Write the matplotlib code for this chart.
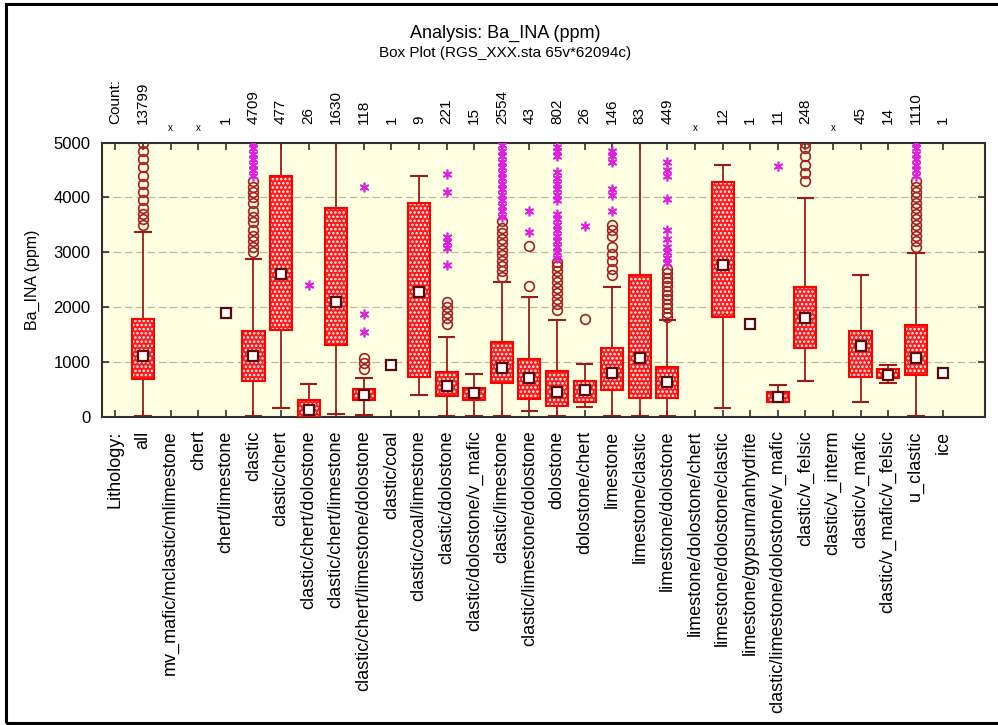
import numpy as np
import matplotlib
matplotlib.use("Agg")
import matplotlib.pyplot as plt
from matplotlib.patches import Rectangle

plt.rcParams['font.family'] = ['Liberation Sans', 'DejaVu Sans']
plt.rcParams['hatch.linewidth'] = 1.2

nan = np.nan
categories = ['all', 'mv_mafic/mclastic/mlimestone', 'chert', 'chert/limestone', 'clastic',
              'clastic/chert', 'clastic/chert/dolostone', 'clastic/chert/limestone',
              'clastic/chert/limestone/dolostone', 'clastic/coal', 'clastic/coal/limestone',
              'clastic/dolostone', 'clastic/dolostone/v_mafic', 'clastic/limestone',
              'clastic/limestone/dolostone', 'dolostone', 'dolostone/chert', 'limestone',
              'limestone/clastic', 'limestone/dolostone', 'limestone/dolostone/chert',
              'limestone/dolostone/clastic', 'limestone/gypsum/anhydrite',
              'clastic/limestone/dolostone/v_mafic', 'clastic/v_felsic', 'clastic/v_interm',
              'clastic/v_mafic', 'clastic/v_mafic/v_felsic', 'u_clastic', 'ice']
counts = ['13799', 'x', 'x', '1', '4709', '477', '26', '1630', '118', '1', '9', '221', '15',
          '2554', '43', '802', '26', '146', '83', '449', 'x', '12', '1', '11', '248', 'x',
          '45', '14', '1110', '1']

median = [1100, nan, nan, 1900, 1100, 2600, 130, 2100, 400, 950, 2280, 565, 440, 890, 700,
          450, 480, 800, 1070, 630, nan, 2770, 1690, 360, 1800, nan, 1290, 770, 1070, 800]
q1 = [680, nan, nan, nan, 660, 1580, 0, 1300, 300, nan, 730, 370, 300, 610, 320,
      190, 260, 480, 340, 340, nan, 1820, nan, 270, 1250, nan, 730, 700, 760, nan]
q3 = [1780, nan, nan, nan, 1570, 4400, 310, 3800, 500, nan, 3900, 810, 530, 1360, 1050,
      840, 660, 1250, 2590, 900, nan, 4280, nan, 450, 2370, nan, 1560, 870, 1680, nan]
w_lo = [15, nan, nan, nan, 15, 150, 0, 55, 30, nan, 400, 15, 15, 15, 110,
        15, 180, 15, 15, 15, nan, 150, nan, 270, 650, nan, 270, 610, 15, nan]
w_hi = [3370, nan, nan, nan, 2880, 5500, 600, 5500, 710, nan, 4400, 1450, 780, 2460, 2180,
        1770, 960, 2370, 5500, 1770, nan, 4600, nan, 580, 3990, nan, 2580, 945, 2990, nan]

outliers = {
    0: [3500, 3600, 3700, 3800, 3950, 4100, 4250, 4400, 4550, 4700, 4850, 5000],
    4: [3000, 3100, 3200, 3300, 3400, 3550, 3650, 3750, 3900, 4000, 4100, 4200, 4300],
    8: [870, 980, 1070],
    11: [1700, 1800, 1900, 2000, 2100],
    13: [2550, 2650, 2750, 2850, 2950, 3050, 3150, 3250, 3350, 3450, 3580],
    14: [2390, 3110],
    15: [1950, 2050, 2150, 2250, 2350, 2450, 2550, 2650, 2750, 2820],
    16: [1780],
    17: [2580, 2700, 2850, 2970, 3100, 3300, 3400, 3500],
    19: [1820, 1900, 1980, 2060, 2140, 2220, 2300, 2380, 2460, 2540, 2620, 2700],
    24: [4300, 4450, 4600, 4750, 4900, 5000],
    28: [3100, 3200, 3300, 3400, 3500, 3600, 3700, 3800, 3900, 4000, 4100, 4200, 4300],
}
extremes = {
    4: [4400, 4500, 4600, 4700, 4800, 4900, 5000],
    6: [2400],
    8: [1550, 1870, 4190],
    11: [2760, 3070, 3190, 3280, 4100, 4430],
    13: [3650, 3750, 3850, 3950, 4050, 4150, 4250, 4350, 4450, 4550, 4650, 4750, 4850, 4950],
    14: [3370, 3760],
    15: [2900, 3000, 3100, 3200, 3300, 3400, 3500, 3600, 3700, 3950, 4050, 4150, 4250,
         4350, 4460, 4760, 4850, 4920],
    16: [3480],
    17: [3760, 4050, 4150, 4650, 4750, 4850],
    19: [2800, 2900, 3000, 3100, 3250, 3400, 3970, 4400, 4500, 4640],
    23: [4580],
    28: [4400, 4500, 4600, 4700, 4800, 4900, 5000],
}

W, H = 998, 725
fig = plt.figure(figsize=(W / 100, H / 100), dpi=100)
fig.patches.append(Rectangle((6 / W, 2 / H), (W + 4) / W, (H - 6) / H, transform=fig.transFigure,
                             fill=False, edgecolor='black', linewidth=2.2))

ax = fig.add_axes([101.7 / W, 1 - 416.7 / H, (984.7 - 101.7) / W, (416.7 - 142.7) / H])
ax.set_facecolor('#FFFFE1')
ax.set_xlim(-1.5, 30.5)
ax.set_ylim(0, 5000)

for y in [1000, 2000, 3000, 4000]:
    ax.axhline(y, color='#B8B8A8', linewidth=0.9, linestyle=(0, (6, 3)), zorder=1)

whisk_c = '#9E1B1B'
box_c = '#FF1A1A'
n = len(categories)
for i in range(n):
    if not np.isnan(w_lo[i]):
        ax.plot([i, i], [w_lo[i], w_hi[i]], color=whisk_c, linewidth=1.3, zorder=2)
        for v in (w_lo[i], w_hi[i]):
            ax.plot([i - 0.32, i + 0.32], [v, v], color=whisk_c, linewidth=1.5, zorder=2,
                    solid_capstyle='butt')
    if not np.isnan(q1[i]):
        ax.bar(i, q3[i] - q1[i], bottom=q1[i], width=0.8, color=box_c, edgecolor='white',
               hatch='....', linewidth=0, zorder=3)
        ax.bar(i, q3[i] - q1[i], bottom=q1[i], width=0.8, fill=False, edgecolor='#FF0000',
               linewidth=1.5, zorder=4)
    if not np.isnan(median[i]):
        ax.plot(i, median[i], marker='s', markersize=7, markerfacecolor='white',
                markeredgecolor='#5A0A0A', markeredgewidth=1.6, zorder=5)
    if i in outliers:
        ax.plot([i] * len(outliers[i]), outliers[i], linestyle='none', marker='o', markersize=7,
                markerfacecolor='none', markeredgecolor='#A52020', markeredgewidth=1.2, zorder=5)
    if i in extremes:
        ax.plot([i] * len(extremes[i]), extremes[i], linestyle='none', marker=(6, 2, 0),
                markersize=7, color='#E020E0', markeredgewidth=1.2, zorder=5)

ax.set_xticks(np.arange(-1, n))
ax.set_xticklabels([])
ax.set_yticks([0, 1000, 2000, 3000, 4000, 5000])
ax.set_yticklabels(['0', '1000', '2000', '3000', '4000', '5000'], fontsize=12)
ax.tick_params(axis='both', direction='in', length=5, width=1.2, color='#303030',
               top=True, right=True, bottom=True, left=True)
ax.tick_params(axis='y', pad=8)
for s in ax.spines.values():
    s.set_linewidth(1.5)
    s.set_color('#303030')
ax.set_ylabel('Ba_INA (ppm)', fontsize=11.5, labelpad=10)

for i, lab in enumerate(['Lithology:'] + categories):
    ax.text(i - 1, -0.05, lab, transform=ax.get_xaxis_transform(), rotation=90,
            ha='center', va='top', fontsize=13)
for i, c in enumerate(['Count:'] + counts):
    if c == 'x':
        ax.text(i - 1, 1.035, 'x', transform=ax.get_xaxis_transform(),
                ha='center', va='bottom', fontsize=7)
    else:
        ax.text(i - 1, 1.07, c, transform=ax.get_xaxis_transform(), rotation=90,
                ha='center', va='bottom', fontsize=11)

fig.text(505 / W, 1 - 33 / H, 'Analysis: Ba_INA (ppm)', ha='center', va='center', fontsize=13)
fig.text(505 / W, 1 - 53 / H, 'Box Plot (RGS_XXX.sta 65v*62094c)', ha='center', va='center',
         fontsize=11)

fig.savefig('out.png', dpi=100, facecolor='white')
